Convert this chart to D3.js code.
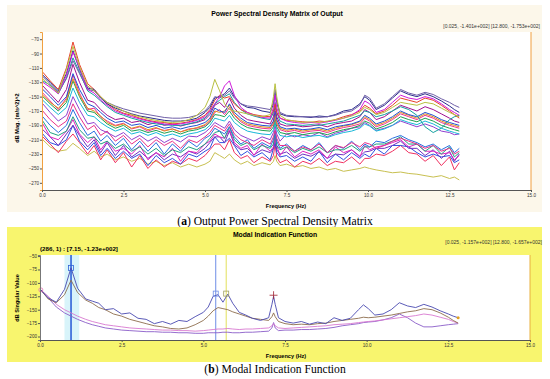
<!DOCTYPE html>
<html>
<head>
<meta charset="utf-8">
<script src="https://cdn.jsdelivr.net/npm/d3@7/dist/d3.min.js"></script>
<style>
  body { margin: 0; background: #fff; }
  svg { display: block; }
  text { font-family: Arial, "Liberation Sans", sans-serif; }
  .cap { font-family: "Liberation Serif", "DejaVu Serif", serif; }
</style>
</head>
<body>
<svg id="chart" width="550" height="379"></svg>
<script>
// shared frequency grid (Hz)
const freq = [0.025, 0.25, 0.5, 0.75, 0.95, 1.15, 1.4, 1.6, 1.8, 2.0,
  2.25, 2.5, 2.75, 3.0, 3.25, 3.5, 3.75, 4.0, 4.25, 4.5,
  4.75, 5.0, 5.15, 5.3, 5.45, 5.6, 5.75, 5.9, 6.1, 6.3,
  6.5, 6.75, 7.0, 7.1, 7.15, 7.2, 7.3, 7.5, 7.75, 8.0,
  8.25, 8.5, 8.75, 9.0, 9.25, 9.5, 9.75, 9.9, 10.05, 10.25,
  10.5, 10.75, 11.0, 11.25, 11.5, 11.75, 12.0, 12.25, 12.5, 12.65,
  12.8];

// (a) PSD matrix, a selection of channels (dB)
const psdLowest = [-210,-220,-226,-224,-215,-222,-232,-226,-234,-230,
 -238,-234,-240,-236,-244,-240,-246,-242,-248,-244,
 -248,-244,-240,-228,-232,-236,-230,-238,-244,-240,
 -246,-242,-245,-240,-232,-240,-246,-244,-248,-246,
 -250,-248,-252,-250,-254,-252,-250,-248,-250,-252,
 -254,-256,-255,-257,-258,-260,-262,-260,-264,-262,
 -266];
const psdL1 = [-188,-206,-210,-198,-182,-202,-214,-206,-224,-212,
 -226,-222,-230,-218,-238,-228,-234,-222,-240,-226,
 -228,-216,-212,-202,-206,-208,-196,-214,-222,-218,
 -232,-216,-226,-220,-206,-218,-232,-220,-234,-226,
 -230,-224,-236,-220,-228,-224,-234,-218,-224,-220,
 -218,-214,-210,-220,-216,-226,-226,-230,-228,-238,
 -232];
const psdL2 = [-202,-214,-218,-210,-190,-212,-224,-214,-232,-222,
 -236,-226,-236,-230,-246,-232,-242,-236,-244,-230,
 -234,-226,-222,-206,-214,-214,-208,-218,-232,-226,
 -234,-228,-238,-222,-214,-228,-234,-232,-240,-234,
 -240,-226,-242,-230,-238,-228,-236,-230,-234,-222,
 -230,-218,-218,-220,-228,-234,-230,-234,-232,-242,
 -238];
const psdL3 = [-184,-200,-204,-198,-178,-196,-208,-206,-216,-212,
 -222,-216,-226,-220,-230,-222,-232,-224,-228,-220,
 -224,-216,-208,-200,-198,-208,-192,-210,-218,-214,
 -224,-218,-222,-216,-198,-218,-224,-220,-228,-222,
 -226,-220,-228,-224,-224,-218,-226,-220,-220,-216,
 -216,-212,-206,-216,-216,-226,-218,-230,-220,-234,
 -228];
const psdL4 = [-206,-216,-228,-212,-202,-214,-230,-218,-238,-224,
 -242,-228,-248,-232,-250,-238,-248,-240,-244,-236,
 -240,-232,-224,-216,-216,-224,-210,-228,-236,-232,
 -242,-234,-240,-232,-216,-234,-242,-238,-248,-240,
 -244,-236,-246,-240,-242,-234,-244,-236,-236,-230,
 -232,-226,-218,-228,-230,-240,-232,-246,-234,-252,
 -242];
const psdL5 = [-196,-206,-218,-202,-190,-204,-220,-210,-228,-214,
 -232,-218,-234,-226,-236,-228,-238,-230,-234,-226,
 -230,-222,-214,-206,-206,-214,-198,-217,-224,-222,
 -231,-224,-228,-222,-206,-224,-230,-227,-236,-230,
 -233,-227,-236,-230,-231,-224,-233,-227,-226,-222,
 -222,-218,-212,-222,-222,-232,-224,-236,-226,-240,
 -230];
const psdB1 = [-160,-172,-184,-176,-150,-168,-188,-186,-196,-200,
 -206,-200,-210,-204,-212,-206,-214,-208,-213,-205,
 -206,-200,-194,-186,-190,-194,-184,-196,-204,-208,
 -212,-206,-210,-200,-190,-202,-212,-202,-206,-203,
 -205,-200,-206,-201,-198,-194,-192,-186,-190,-197,
 -194,-190,-184,-188,-192,-188,-192,-198,-200,-203,
 -202];
const psdB2 = [-170,-182,-192,-184,-160,-178,-196,-190,-204,-198,
 -212,-204,-216,-208,-220,-210,-218,-212,-222,-210,
 -214,-206,-200,-190,-194,-198,-188,-202,-210,-214,
 -218,-210,-216,-206,-196,-208,-218,-218,-226,-220,
 -224,-216,-228,-218,-221,-214,-220,-214,-216,-222,
 -218,-212,-208,-212,-216,-222,-218,-226,-222,-230,
 -226];
const psdB3 = [-178,-190,-200,-190,-168,-186,-204,-198,-212,-204,
 -218,-208,-224,-212,-226,-214,-230,-216,-226,-212,
 -220,-208,-204,-194,-198,-202,-192,-206,-216,-210,
 -222,-214,-220,-210,-200,-212,-222,-216,-226,-218,
 -224,-214,-228,-218,-222,-212,-224,-216,-220,-212,
 -214,-208,-204,-210,-214,-220,-216,-224,-218,-228,
 -222];
const psdM1 = [-140,-150,-162,-150,-118,-140,-160,-164,-172,-180,
 -186,-184,-190,-188,-193,-190,-194,-192,-195,-192,
 -190,-186,-180,-166,-170,-172,-160,-172,-180,-186,
 -188,-190,-191,-184,-170,-182,-192,-195,-194,-196,
 -195,-193,-196,-192,-190,-188,-184,-176,-180,-188,
 -184,-178,-170,-175,-178,-172,-176,-182,-186,-188,
 -190];
const psdM2 = [-145,-156,-168,-152,-120,-145,-168,-166,-178,-184,
 -190,-187,-195,-192,-198,-194,-197,-195,-199,-195,
 -194,-190,-184,-172,-168,-175,-165,-176,-185,-190,
 -192,-194,-195,-188,-176,-188,-196,-199,-197,-200,
 -198,-197,-200,-196,-193,-191,-188,-180,-184,-192,
 -188,-182,-174,-178,-182,-176,-180,-186,-190,-192,
 -194];
const psdM3 = [-150,-160,-170,-158,-128,-150,-170,-172,-180,-188,
 -194,-190,-198,-196,-200,-197,-201,-198,-202,-198,
 -196,-192,-186,-175,-176,-178,-170,-180,-188,-193,
 -195,-197,-198,-192,-180,-192,-200,-202,-200,-203,
 -201,-200,-203,-199,-196,-194,-190,-184,-187,-195,
 -191,-186,-178,-182,-185,-180,-184,-190,-194,-196,
 -198];
const psdM4 = [-135,-146,-158,-140,-105,-130,-155,-158,-168,-176,
 -182,-180,-186,-184,-189,-186,-190,-188,-191,-188,
 -186,-182,-175,-162,-158,-165,-152,-166,-176,-182,
 -184,-186,-188,-178,-162,-178,-188,-191,-190,-192,
 -191,-189,-192,-188,-186,-184,-178,-168,-172,-182,
 -178,-170,-162,-166,-170,-164,-168,-174,-180,-184,
 -186];
const psdM5 = [-155,-165,-175,-165,-138,-158,-176,-178,-186,-192,
 -198,-194,-202,-199,-204,-200,-205,-202,-206,-202,
 -200,-196,-190,-180,-182,-184,-176,-186,-193,-198,
 -200,-202,-203,-196,-186,-196,-204,-206,-204,-207,
 -205,-204,-207,-203,-200,-198,-194,-188,-191,-198,
 -195,-190,-182,-186,-189,-184,-188,-194,-198,-200,
 -202];
const psdM6 = [-148,-158,-166,-155,-125,-148,-166,-170,-177,-186,
 -191,-188,-194,-191,-196,-193,-198,-195,-199,-196,
 -193,-189,-182,-170,-172,-170,-162,-175,-183,-188,
 -190,-192,-193,-186,-174,-186,-194,-197,-195,-198,
 -196,-195,-198,-194,-191,-189,-185,-178,-182,-190,
 -186,-180,-172,-176,-180,-174,-178,-184,-188,-190,
 -192];
const psdU1 = [-120,-130,-142,-118,-86,-112,-138,-140,-152,-160,
 -166,-170,-174,-177,-179,-181,-183,-184,-184,-183,
 -180,-172,-165,-152,-150,-146,-138,-150,-160,-165,
 -166,-170,-172,-160,-145,-158,-174,-177,-178,-178,
 -179,-177,-178,-175,-170,-168,-160,-150,-155,-168,
 -162,-152,-142,-147,-150,-146,-150,-156,-163,-168,
 -172];
const psdU2 = [-125,-135,-145,-112,-80,-108,-135,-142,-150,-158,
 -164,-170,-175,-178,-181,-183,-185,-186,-185,-182,
 -176,-165,-150,-126,-142,-160,-168,-170,-172,-174,
 -176,-178,-175,-150,-132,-150,-176,-182,-184,-186,
 -185,-186,-184,-182,-180,-177,-172,-165,-168,-175,
 -172,-165,-158,-160,-162,-158,-160,-166,-172,-175,
 -178];
const psdU3 = [-130,-137,-146,-120,-88,-110,-140,-145,-155,-162,
 -170,-174,-178,-181,-184,-186,-188,-189,-188,-186,
 -183,-178,-170,-160,-150,-135,-128,-148,-165,-172,
 -176,-179,-180,-165,-148,-165,-180,-184,-186,-187,
 -186,-187,-185,-183,-180,-176,-168,-156,-160,-172,
 -168,-158,-148,-152,-154,-150,-153,-160,-168,-172,
 -176];
const psdU4 = [-116,-128,-140,-110,-74,-105,-132,-140,-150,-160,
 -168,-173,-176,-180,-183,-185,-186,-188,-187,-185,
 -182,-176,-168,-155,-148,-152,-150,-160,-168,-172,
 -175,-177,-178,-170,-160,-172,-180,-183,-184,-185,
 -186,-184,-185,-182,-178,-175,-170,-162,-166,-174,
 -170,-162,-152,-155,-158,-152,-155,-162,-170,-175,
 -180];
const psdU5 = [-122,-132,-144,-125,-100,-118,-140,-142,-152,-158,
 -163,-167,-170,-173,-175,-177,-179,-180,-180,-179,
 -176,-170,-162,-150,-152,-148,-142,-152,-160,-163,
 -164,-166,-168,-158,-140,-156,-172,-176,-177,-178,
 -178,-179,-178,-176,-172,-170,-162,-148,-152,-166,
 -160,-150,-140,-145,-148,-144,-147,-153,-158,-162,
 -165];
const psdU6 = [-128,-134,-146,-124,-96,-116,-142,-148,-156,-164,
 -172,-176,-180,-183,-186,-188,-189,-190,-190,-188,
 -185,-180,-172,-160,-155,-150,-146,-158,-168,-174,
 -177,-180,-182,-172,-158,-172,-184,-188,-189,-190,
 -189,-190,-188,-186,-184,-180,-176,-170,-172,-178,
 -175,-170,-164,-168,-176,-192,-200,-194,-182,-178,
 -176];

const psdChannels = [psdLowest, psdL4, psdL2, psdL5, psdL1, psdL3,
  psdB3, psdB2, psdB1,
  psdM5, psdM3, psdM2, psdM6, psdM1, psdM4,
  psdU6, psdU4, psdU1, psdU5, psdU3, psdU2];
const psdColors = ['#c8c050', '#f03060', '#3050e0', '#7030c0', '#e020c0', '#20a080',
  '#2870e0', '#e8308a', '#9040d0',
  '#18b8d8', '#20a050', '#f0308c', '#e09020', '#2050d0', '#a01090',
  '#14a0a0', '#e8402a', '#2b2b8c', '#7060a8', '#d01adc', '#b8c040'];

// (b) modal indication function, singular values (dB)
const sv1 = [-113,-128,-136,-112,-72,-110,-130,-134,-138,-150,
 -148,-158,-156,-166,-168,-176,-172,-177,-170,-172,
 -163,-155,-145,-125,-122,-136,-121,-138,-155,-160,
 -166,-170,-165,-140,-125,-140,-165,-172,-175,-172,
 -177,-173,-176,-165,-170,-166,-150,-141,-148,-160,
 -158,-150,-137,-143,-146,-140,-145,-152,-158,-162,
 -165];
const sv2 = [-113,-130,-137,-122,-95,-118,-132,-138,-146,-150,
 -158,-162,-168,-172,-176,-180,-182,-185,-186,-184,
 -178,-170,-162,-152,-146,-148,-150,-154,-158,-162,
 -166,-168,-170,-163,-156,-163,-172,-176,-178,-177,
 -178,-176,-175,-172,-170,-168,-166,-164,-165,-164,
 -162,-160,-157,-154,-152,-148,-150,-156,-164,-170,
 -175];
const sv3 = [-113,-125,-140,-150,-156,-162,-168,-172,-175,-178,
 -180,-182,-184,-185,-186,-187,-188,-188,-189,-189,
 -190,-189,-188,-187,-186,-186,-185,-186,-187,-186,
 -186,-185,-184,-180,-176,-180,-184,-185,-184,-183,
 -182,-181,-180,-178,-177,-176,-174,-173,-172,-171,
 -169,-167,-165,-163,-161,-158,-160,-164,-168,-172,
 -175];
const sv4 = [-114,-128,-145,-156,-162,-168,-174,-178,-181,-184,
 -186,-188,-189,-190,-191,-191,-192,-192,-193,-193,
 -194,-194,-193,-193,-193,-192,-192,-193,-193,-192,
 -192,-191,-190,-184,-174,-184,-189,-188,-188,-187,
 -187,-186,-185,-183,-180,-178,-176,-174,-173,-172,
 -169,-165,-158,-165,-175,-182,-182,-180,-178,-177,
 -176];
const svLines = [sv4, sv3, sv2, sv1];
const svColors = ['#8a5cc8', '#d878d0', '#8c6c4c', '#4848b0'];

const modeFreqs = [0.95, 5.38, 5.7];
const modeValues = [-72, -120, -120];
const modeColors = ['#2f62d8', '#6f8ee6', '#e2e05a'];
const cursor = { f: 7.15, v: -123 };
const bandA = [0.75, 1.2];

const yTicksA = [-70, -90, -110, -130, -150, -170, -190, -210, -230, -250, -270];
const yTicksB = [-50, -75, -100, -125, -150, -175, -200];
const xTicks = [0, 2.5, 5, 7.5, 10, 12.5, 15];

const svg = d3.select('#chart');

function axisStyle(g, col) {
  g.selectAll('text').attr('fill', '#333').style('font-size', '4.6px');
  g.selectAll('.tick line').attr('stroke', '#555');
  g.select('.domain').attr('stroke', col);
}

// ---------- panel (a) ----------
const xA = d3.scaleLinear([0, 15], [42, 531]);
const yA = d3.scaleLinear([-280, -60], [190, 32]);

svg.append('rect').attr('x', 7).attr('y', 5).attr('width', 535).attr('height', 207).attr('fill', '#fcf7ea');
svg.append('rect').attr('x', 42).attr('y', 32).attr('width', 489).attr('height', 158).attr('fill', '#fff');

svg.append('text').attr('x', 277).attr('y', 16).attr('text-anchor', 'middle')
  .style('font-size', '6.9px').style('font-weight', 'bold').text('Power Spectral Density Matrix of Output');
svg.append('text').attr('x', 540).attr('y', 28).attr('text-anchor', 'end')
  .style('font-size', '5px').attr('fill', '#333').text('[0.025, -1.401e+002] [12.800, -1.753e+002]');

svg.append('defs').append('clipPath').attr('id', 'clipA')
  .append('rect').attr('x', 42).attr('y', 32).attr('width', 489).attr('height', 158);

const lineA = d3.line().x((d, i) => xA(freq[i])).y(d => yA(d));
svg.append('g').attr('clip-path', 'url(#clipA)')
  .selectAll('path').data(psdChannels).join('path')
  .attr('d', lineA).attr('fill', 'none')
  .attr('stroke', (d, i) => psdColors[i]).attr('stroke-width', 1);

svg.append('g').attr('transform', 'translate(42,0)')
  .call(d3.axisLeft(yA).tickValues(yTicksA).tickSize(2).tickPadding(1))
  .call(g => axisStyle(g, '#f0a040'));
svg.append('line').attr('x1', xA(15)).attr('x2', xA(15)).attr('y1', 32).attr('y2', 190)
  .attr('stroke', '#f0a040');
svg.append('g').attr('transform', 'translate(0,190)')
  .call(d3.axisBottom(xA).tickValues(xTicks).tickFormat(d3.format('.1f')).tickSize(2).tickPadding(2))
  .call(g => axisStyle(g, '#555'));

svg.append('text').attr('x', 286).attr('y', 208).attr('text-anchor', 'middle')
  .style('font-size', '5.6px').style('font-weight', 'bold').text('Frequency (Hz)');
svg.append('text').attr('transform', 'translate(19,118) rotate(-90)').attr('text-anchor', 'middle')
  .style('font-size', '5.6px').style('font-weight', 'bold').text('dB Mag. (m/s^2)^2');

const capA = svg.append('text').attr('class', 'cap').attr('x', 275).attr('y', 225)
  .attr('text-anchor', 'middle').style('font-size', '11.6px');
capA.append('tspan').text('(');
capA.append('tspan').style('font-weight', 'bold').text('a');
capA.append('tspan').text(') Output Power Spectral Density Matrix');

// ---------- panel (b) ----------
const xB = d3.scaleLinear([0, 15], [40, 530]);
const yB = d3.scaleLinear([-206.5, -48], [340, 255]);

svg.append('rect').attr('x', 7).attr('y', 227).attr('width', 535).attr('height', 135).attr('fill', '#f8f56e');
svg.append('rect').attr('x', 40).attr('y', 255).attr('width', 490).attr('height', 85).attr('fill', '#fff');

svg.append('text').attr('x', 275).attr('y', 237).attr('text-anchor', 'middle')
  .style('font-size', '6.8px').style('font-weight', 'bold').text('Modal Indication Function');
svg.append('text').attr('x', 542).attr('y', 244).attr('text-anchor', 'end')
  .style('font-size', '5px').attr('fill', '#333').text('[0.025, -1.157e+002] [12.800, -1.657e+002]');
svg.append('text').attr('x', 40).attr('y', 251)
  .style('font-size', '6.2px').style('font-weight', 'bold').text('(286, 1) : [7.15, -1.23e+002]');

svg.append('rect').attr('x', xB(bandA[0])).attr('y', 255)
  .attr('width', xB(bandA[1]) - xB(bandA[0])).attr('height', 85).attr('fill', '#d8f4fa');

svg.append('g').selectAll('line').data(modeFreqs).join('line')
  .attr('x1', d => xB(d)).attr('x2', d => xB(d)).attr('y1', 255).attr('y2', 340)
  .attr('stroke', (d, i) => modeColors[i]).attr('stroke-width', (d, i) => i === 0 ? 1.6 : 1);

const lineB = d3.line().x((d, i) => xB(freq[i])).y(d => yB(d));
svg.append('g').selectAll('path').data(svLines).join('path')
  .attr('d', lineB).attr('fill', 'none')
  .attr('stroke', (d, i) => svColors[i]).attr('stroke-width', 0.9);

svg.append('g').selectAll('rect').data(modeFreqs).join('rect')
  .attr('x', d => xB(d) - 2.5).attr('y', (d, i) => yB(modeValues[i]) - 2.5)
  .attr('width', 5).attr('height', 5).attr('fill', 'none')
  .attr('stroke', (d, i) => i === 2 ? '#a0a060' : modeColors[i]).attr('stroke-width', 0.8);

svg.append('path')
  .attr('d', `M${xB(cursor.f) - 4},${yB(cursor.v)}h8M${xB(cursor.f)},${yB(cursor.v) - 4}v8`)
  .attr('stroke', '#a02030').attr('stroke-width', 0.8);
svg.append('circle').attr('cx', xB(freq[0])).attr('cy', yB(sv1[0])).attr('r', 2)
  .attr('fill', 'none').attr('stroke', '#e070b0').attr('stroke-width', 0.8);
svg.append('circle').attr('cx', xB(freq[freq.length - 1])).attr('cy', yB(sv1[sv1.length - 1])).attr('r', 1.5)
  .attr('fill', '#e0a020');

svg.append('g').attr('transform', 'translate(40,0)')
  .call(d3.axisLeft(yB).tickValues(yTicksB).tickSize(2).tickPadding(1))
  .call(g => axisStyle(g, '#777'));
svg.append('line').attr('x1', xB(15)).attr('x2', xB(15)).attr('y1', 255).attr('y2', 340)
  .attr('stroke', '#e8b040');
svg.append('g').attr('transform', 'translate(0,340)')
  .call(d3.axisBottom(xB).tickValues(xTicks).tickFormat(d3.format('.1f')).tickSize(2).tickPadding(2))
  .call(g => axisStyle(g, '#555'));

svg.append('text').attr('x', 286).attr('y', 358).attr('text-anchor', 'middle')
  .style('font-size', '5.6px').style('font-weight', 'bold').text('Frequency (Hz)');
svg.append('text').attr('transform', 'translate(19,298) rotate(-90)').attr('text-anchor', 'middle')
  .style('font-size', '5.6px').style('font-weight', 'bold').text('dB Singular Value');

const capB = svg.append('text').attr('class', 'cap').attr('x', 275).attr('y', 373)
  .attr('text-anchor', 'middle').style('font-size', '11.6px');
capB.append('tspan').text('(');
capB.append('tspan').style('font-weight', 'bold').text('b');
capB.append('tspan').text(') Modal Indication Function');
</script>
</body>
</html>
